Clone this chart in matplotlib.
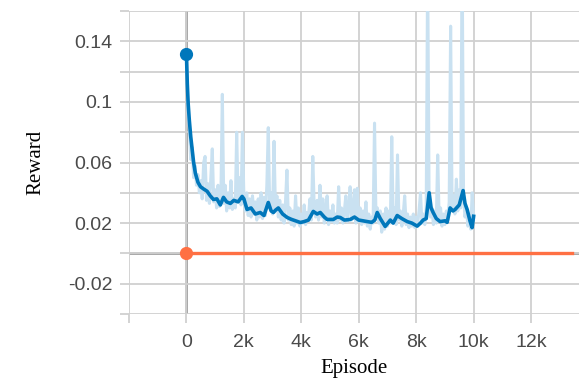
import numpy as np
import matplotlib
matplotlib.use("Agg")
import matplotlib.pyplot as plt
from matplotlib.ticker import FixedLocator, FixedFormatter

# ---------------- data ----------------
raw_step = 50
raw_y = [
    0.131, 0.095, 0.082, 0.062, 0.070, 0.050, 0.058, 0.045, 0.052, 0.040,
    0.048, 0.036, 0.060, 0.064, 0.035, 0.046, 0.033, 0.050, 0.069, 0.034,
    0.042, 0.030, 0.045, 0.031, 0.038, 0.105, 0.033, 0.045, 0.028, 0.040,
    0.030, 0.048, 0.029, 0.036, 0.030, 0.080, 0.035, 0.050, 0.032, 0.080,
    0.038, 0.028, 0.040, 0.025, 0.036, 0.024, 0.038, 0.026, 0.034, 0.022,
    0.036, 0.024, 0.040, 0.023, 0.037, 0.025, 0.045, 0.083, 0.030, 0.040,
    0.026, 0.074, 0.028, 0.038, 0.024, 0.035, 0.022, 0.032, 0.020, 0.034,
    0.055, 0.022, 0.030, 0.019, 0.028, 0.018, 0.038, 0.020, 0.030, 0.018,
    0.026, 0.020, 0.032, 0.019, 0.027, 0.024, 0.036, 0.022, 0.064, 0.030,
    0.024, 0.035, 0.022, 0.045, 0.024, 0.036, 0.020, 0.030, 0.038, 0.019,
    0.028, 0.021, 0.032, 0.020, 0.026, 0.020, 0.044, 0.022, 0.030, 0.020,
    0.028, 0.038, 0.021, 0.030, 0.044, 0.022, 0.030, 0.042, 0.020, 0.043,
    0.021, 0.030, 0.019, 0.028, 0.020, 0.034, 0.018, 0.026, 0.016, 0.024,
    0.020, 0.086, 0.024, 0.030, 0.020, 0.028, 0.014, 0.026, 0.016, 0.030,
    0.018, 0.028, 0.020, 0.077, 0.022, 0.030, 0.019, 0.065, 0.022, 0.028,
    0.018, 0.026, 0.038, 0.019, 0.026, 0.017, 0.024, 0.018, 0.026, 0.017,
    0.024, 0.019, 0.028, 0.040, 0.020, 0.026, 0.019, 0.030, 0.190, 0.034,
    0.024, 0.030, 0.019, 0.028, 0.020, 0.065, 0.022, 0.030, 0.018, 0.026,
    0.019, 0.028, 0.022, 0.034, 0.150, 0.030, 0.038, 0.026, 0.049, 0.028,
    0.042, 0.030, 0.200, 0.036, 0.024, 0.030, 0.018, 0.026, 0.016, 0.040,
    0.024,
]
raw_x = np.arange(len(raw_y)) * raw_step

smooth_x = [0, 30, 60, 100, 150, 200, 250, 310, 400, 490, 600, 720, 830, 940,
            1060, 1180, 1290, 1400, 1530, 1650, 1800, 1940, 2000, 2110, 2250,
            2400, 2570, 2700, 2850, 2950, 3030, 3100, 3200, 3350, 3510, 3650,
            3800, 3965, 4100, 4250, 4417, 4550, 4660, 4800, 4900, 5113, 5250,
            5356, 5500, 5704, 5850, 6000, 6150, 6295, 6450, 6560, 6643, 6750,
            6921, 7100, 7200, 7339, 7500, 7687, 7850, 8035, 8150, 8243, 8350,
            8452, 8520, 8591, 8700, 8834, 9000, 9078, 9182, 9280, 9356, 9500,
            9634, 9700, 9774, 9880, 9948, 10000]
smooth_y = [0.1318, 0.112, 0.099, 0.088, 0.077, 0.0685, 0.060, 0.053, 0.047,
            0.044, 0.0425, 0.041, 0.038, 0.0356, 0.036, 0.032, 0.037, 0.034,
            0.033, 0.035, 0.034, 0.0376, 0.036, 0.029, 0.030, 0.026, 0.027,
            0.025, 0.0336, 0.028, 0.027, 0.0285, 0.030, 0.026, 0.0237, 0.0225,
            0.0215, 0.0204, 0.021, 0.022, 0.0277, 0.026, 0.027, 0.024, 0.0224,
            0.0224, 0.024, 0.0237, 0.022, 0.0224, 0.024, 0.022, 0.0215, 0.021,
            0.0205, 0.022, 0.027, 0.023, 0.0178, 0.022, 0.020, 0.025, 0.023,
            0.021, 0.020, 0.018, 0.020, 0.022, 0.023, 0.040, 0.030, 0.027,
            0.023, 0.021, 0.0215, 0.0205, 0.030, 0.028, 0.029, 0.032, 0.0415,
            0.033, 0.029, 0.021, 0.017, 0.0245]

orange_x = [0, 13420]
orange_y = [0.0, 0.0]

x_ticks = [-2000, 0, 2000, 4000, 6000, 8000, 10000, 12000]
x_tick_labels = ["", "0", "2k", "4k", "6k", "8k", "10k", "12k"]
y_ticks = [-0.04, -0.02, 0.0, 0.02, 0.04, 0.06, 0.08, 0.10, 0.12, 0.14, 0.16]
y_tick_labels = ["", "-0.02", "", "0.02", "", "0.06", "", "0.1", "", "0.14", ""]

# ---------------- figure ----------------
fig = plt.figure(figsize=(5.79, 3.83), dpi=100)
ax = fig.add_axes([129 / 579, 1 - 314 / 383, 1 - 129 / 579, (314 - 11) / 383])

blue = "#0077bb"
light = "#c9e1f1"
orange = "#ff7043"
grid_c = "#d0d0d0"

ax.set_xlim(-2000, 13670)
ax.set_ylim(-0.04, 0.16)

ax.xaxis.set_major_locator(FixedLocator(x_ticks))
ax.xaxis.set_major_formatter(FixedFormatter(x_tick_labels))
ax.yaxis.set_major_locator(FixedLocator(y_ticks))
ax.yaxis.set_major_formatter(FixedFormatter(y_tick_labels))

ax.grid(True, color=grid_c, linewidth=1.3, zorder=0)
for s in ax.spines.values():
    s.set_visible(False)
ax.tick_params(axis="both", length=6.5, width=1.3, color=grid_c,
               labelsize=14, labelcolor="#4a4a4a")
ax.tick_params(axis="y", pad=5.5)
ax.tick_params(axis="x", pad=8)
for lab in ax.get_xticklabels() + ax.get_yticklabels():
    lab.set_family("Liberation Sans")

# zero axes
ax.axhline(0, color="#a0a0a0", linewidth=2, zorder=1)
ax.axvline(0, color="#a0a0a0", linewidth=2, zorder=1)

ax.plot(raw_x, raw_y, color=light, linewidth=2.2, zorder=2)
ax.plot(smooth_x, smooth_y, color=blue, linewidth=2.6, zorder=3)
ax.plot([smooth_x[0]], [smooth_y[0]], "o", color=blue, markersize=8.5, zorder=4)

ax.plot(orange_x, orange_y, color=orange, linewidth=2.4, zorder=3)
ax.plot([orange_x[0]], [orange_y[0]], "o", color=orange, markersize=8.5, zorder=4)

ax.set_xlabel("Episode", family="Liberation Serif", fontsize=15, labelpad=6)
ax.set_ylabel("Reward", family="Liberation Serif", fontsize=15, labelpad=16)

fig.savefig("out.png", dpi=100)
